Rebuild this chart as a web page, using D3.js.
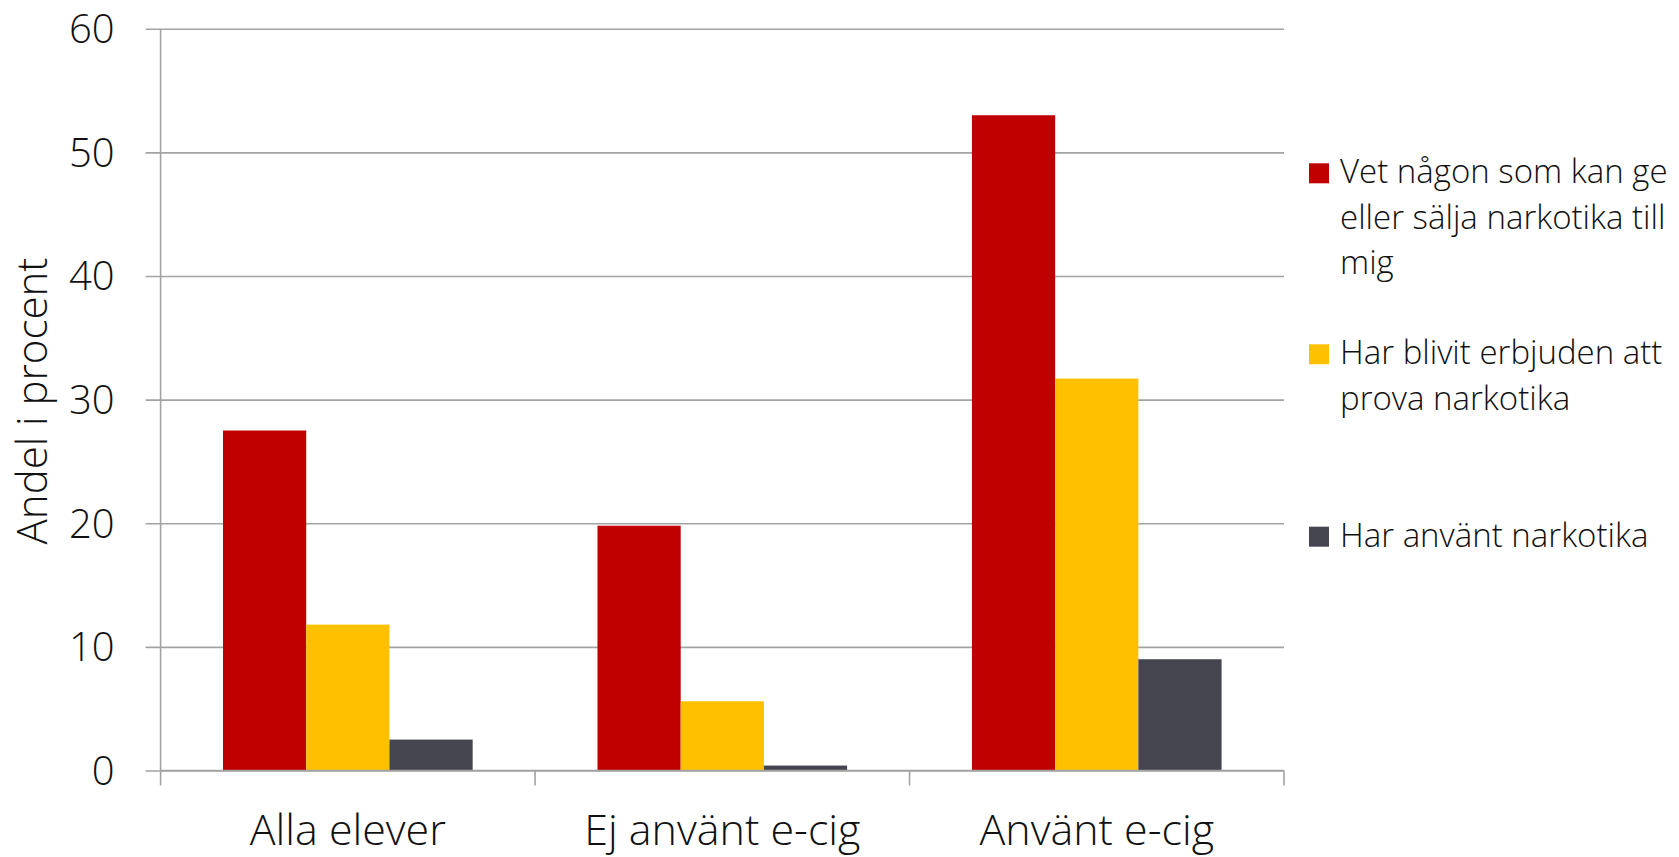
<!DOCTYPE html>
<html>
<head>
<meta charset="utf-8">
<script src="https://cdn.jsdelivr.net/npm/d3@7/dist/d3.min.js"></script>
<style>
  html, body { margin: 0; padding: 0; background: #ffffff; }
  svg { display: block; }
  text { font-family: "Open Sans", "Noto Sans", sans-serif; font-weight: 300; fill: #111111; }
</style>
</head>
<body>
<svg id="chart" width="1679" height="857"></svg>
<script>
// Kategorier och serier
const categories = ["Alla elever", "Ej använt e-cig", "Använt e-cig"];
const seriesNames = [
  "Vet någon som kan ge eller sälja narkotika till mig",
  "Har blivit erbjuden att prova narkotika",
  "Har använt narkotika"
];
const legendLines = [
  ["Vet någon som kan ge", "eller sälja narkotika till", "mig"],
  ["Har blivit erbjuden att", "prova narkotika"],
  ["Har använt narkotika"]
];
const vetNagon = [27.5, 19.8, 53.0];
const erbjuden = [11.8, 5.6, 31.7];
const anvant = [2.5, 0.4, 9.0];
const seriesValues = [vetNagon, erbjuden, anvant];
const seriesColors = ["#c00000", "#ffc000", "#45454f"];
const yTicks = [0, 10, 20, 30, 40, 50, 60];
const yTitle = "Andel i procent";

const svg = d3.select("#chart");
const plot = { left: 160.6, right: 1284, top: 28.7, bottom: 770.5 };

const x0 = d3.scaleBand()
  .domain(categories)
  .range([plot.left, plot.right])
  .paddingInner(0).paddingOuter(0);

const x1 = d3.scaleBand()
  .domain(d3.range(seriesNames.length))
  .range([0, x0.bandwidth()])
  .paddingInner(0).paddingOuter(0.75);

const y = d3.scaleLinear().domain([0, 60]).range([plot.bottom, plot.top]);

const gridColor = "#a3a3a3";

// Stödlinjer med korta markeringar till vänster om axeln
const yAxis = d3.axisLeft(y)
  .tickValues(yTicks)
  .tickSize(-(plot.right - plot.left))
  .tickSizeOuter(0)
  .tickPadding(0)
  .tickFormat(d3.format("d"));

const gy = svg.append("g")
  .attr("transform", `translate(${plot.left},0)`)
  .call(yAxis);
gy.select(".domain").remove();
gy.selectAll(".tick line")
  .attr("x1", -15)
  .attr("stroke", gridColor)
  .attr("stroke-width", 1.6);
gy.selectAll(".tick text")
  .attr("x", -46)
  .attr("dy", "0.35em")
  .style("font-size", "40px")
  .style("font-family", "'Open Sans', sans-serif")
  .style("font-weight", 300)
  .attr("fill", "#111");

// Staplar
const groups = svg.append("g")
  .selectAll("g")
  .data(categories)
  .join("g")
  .attr("transform", d => `translate(${x0(d)},0)`);

groups.selectAll("rect")
  .data((d, ci) => seriesValues.map((vals, si) => ({ si, v: vals[ci] })))
  .join("rect")
  .attr("x", d => x1(d.si))
  .attr("width", x1.bandwidth())
  .attr("y", d => y(d.v))
  .attr("height", d => y(0) - y(d.v))
  .attr("fill", d => seriesColors[d.si]);

// Vertikal axel
svg.append("line")
  .attr("x1", plot.left).attr("x2", plot.left)
  .attr("y1", plot.top).attr("y2", plot.bottom)
  .attr("stroke", gridColor).attr("stroke-width", 1.6);

// Kategoriaxel med gränsmarkeringar
const boundaries = categories.map(c => x0(c)).concat([plot.right]);
svg.append("line")
  .attr("x1", plot.left).attr("x2", plot.right)
  .attr("y1", y(0)).attr("y2", y(0))
  .attr("stroke", gridColor).attr("stroke-width", 1.6);
svg.append("g").selectAll("line")
  .data(boundaries)
  .join("line")
  .attr("x1", d => d).attr("x2", d => d)
  .attr("y1", y(0)).attr("y2", y(0) + 15)
  .attr("stroke", gridColor).attr("stroke-width", 1.6);

svg.append("g").selectAll("text")
  .data(categories)
  .join("text")
  .attr("x", d => x0(d) + x0.bandwidth() / 2)
  .attr("y", 845)
  .attr("text-anchor", "middle")
  .style("font-size", "43px")
  .text(d => d);

// Axeltitel
svg.append("text")
  .attr("transform", "translate(47,401) rotate(-90)")
  .attr("text-anchor", "middle")
  .style("font-size", "42px")
  .text(yTitle);

// Teckenförklaring
const legendTop = [163.3, 344.3, 526.7];
const legend = svg.append("g").selectAll("g")
  .data(seriesNames)
  .join("g")
  .attr("transform", (d, i) => `translate(1309,${legendTop[i]})`);

legend.append("rect")
  .attr("width", 20).attr("height", 20)
  .attr("fill", (d, i) => seriesColors[i]);

legend.append("text")
  .attr("x", 31)
  .style("font-size", "33px")
  .selectAll("tspan")
  .data((d, i) => legendLines[i])
  .join("tspan")
  .attr("x", 31)
  .attr("y", (d, j) => 20 + j * 45.5)
  .text(d => d);
</script>
</body>
</html>
